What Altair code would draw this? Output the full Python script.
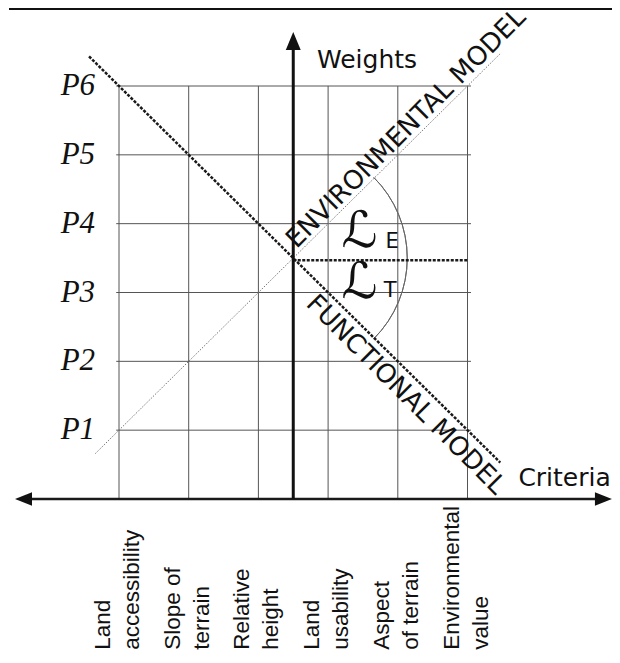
import altair as alt
import pandas as pd

# ---------------- data ----------------
criteria_line1 = ["Land", "Slope of", "Relative", "Land", "Aspect", "Environmental"]
criteria_line2 = ["accessibility", "terrain", "height", "usability", "of terrain", "value"]
criteria_pos = [1, 2, 3, 4, 5, 6]

weight_labels = ["P1", "P2", "P3", "P4", "P5", "P6"]
weight_pos = [1, 2, 3, 4, 5, 6]

# model lines (criterion position, weight level)
functional_x = [0.57, 6.47]
functional_y = [6.43, 0.53]
environmental_x = [0.66, 6.48]
environmental_y = [0.66, 6.48]

angle_symbols = ["\u2112", "\u2112"]
angle_subs = ["E", "T"]

# ---------------- scales ----------------
XS = alt.Scale(domain=[1, 6], range=[111, 459.5], zero=False, nice=False)
YS = alt.Scale(domain=[0, 6], range=[491, 78], zero=False, nice=False)


def X(f):
    return alt.X(f, type="quantitative", scale=XS, axis=None)


def Y(f):
    return alt.Y(f, type="quantitative", scale=YS, axis=None)


def X2(f):
    return alt.X2(f)


def Y2(f):
    return alt.Y2(f)


FONT = "DejaVu Sans"
INK = "#111111"

# grid
vgrid = pd.DataFrame({"c": criteria_pos, "y0": [0] * 6, "y1": [6] * 6})
hgrid = pd.DataFrame({"w": weight_pos, "x0": [0.96] * 6, "x1": [6.05] * 6})

vlines = alt.Chart(vgrid).mark_rule(color="#555555", strokeWidth=1).encode(
    x=X("c"), y=Y("y0"), y2=Y2("y1"))
hlines = alt.Chart(hgrid).mark_rule(color="#555555", strokeWidth=1).encode(
    y=Y("w"), x=X("x0"), x2=X2("x1"))

# axes
xaxis_df = pd.DataFrame({"a": [-0.35], "b": [7.9], "y": [0]})
xaxis = alt.Chart(xaxis_df).mark_rule(color="#1a1a1a", strokeWidth=2.5).encode(
    x=X("a"), x2=X2("b"), y=Y("y"))
yaxis_df = pd.DataFrame({"x": [3.5], "a": [0], "b": [6.6]})
yaxis = alt.Chart(yaxis_df).mark_rule(color=INK, strokeWidth=3).encode(
    x=X("x"), y=Y("a"), y2=Y2("b"))

left_head = alt.Chart(pd.DataFrame({"x": [-0.37], "y": [0]})).mark_point(
    shape="M-1,0L1,-0.8L1,0.8Z", size=289, filled=True, color=INK, opacity=1
).encode(x=X("x"), y=Y("y"))
right_head = alt.Chart(pd.DataFrame({"x": [7.95], "y": [0]})).mark_point(
    shape="M1,0L-1,-0.8L-1,0.8Z", size=289, filled=True, color=INK, opacity=1
).encode(x=X("x"), y=Y("y"))
up_head = alt.Chart(pd.DataFrame({"x": [3.5], "y": [6.654]})).mark_point(
    shape="M0,-1L-0.83,1L0.83,1Z", size=324, filled=True, color=INK, opacity=1
).encode(x=X("x"), y=Y("y"))

# model lines
func_df = pd.DataFrame({"x": [functional_x[0]], "y": [functional_y[0]],
                        "x2": [functional_x[1]], "y2": [functional_y[1]]})
func_line = alt.Chart(func_df).mark_rule(
    color="#1a1a1a", strokeWidth=2.5, strokeDash=[3, 1.5]
).encode(x=X("x"), y=Y("y"), x2=X2("x2"), y2=Y2("y2"))

env_df = pd.DataFrame({"x": [environmental_x[0]], "y": [environmental_y[0]],
                       "x2": [environmental_x[1]], "y2": [environmental_y[1]]})
env_line = alt.Chart(env_df).mark_rule(
    color="#777777", strokeWidth=1, strokeDash=[1.5, 1.5]
).encode(x=X("x"), y=Y("y"), x2=X2("x2"), y2=Y2("y2"))

mid_df = pd.DataFrame({"x": [3.5], "x2": [6.0], "y": [3.47]})
mid_line = alt.Chart(mid_df).mark_rule(
    color="#1a1a1a", strokeWidth=2.5, strokeDash=[3, 1.5]
).encode(x=X("x"), x2=X2("x2"), y=Y("y"))

arc = alt.Chart(pd.DataFrame({"x": [3.5], "y": [3.5]})).mark_arc(
    radius=114, radius2=114, theta=0.785, theta2=2.356,
    filled=False, color="#666666", strokeWidth=1
).encode(x=X("x"), y=Y("y"))

# weight labels
wdf = pd.DataFrame({"w": weight_pos, "label": weight_labels, "x": [0.41] * 6})
wtext = alt.Chart(wdf).mark_text(
    font="Liberation Serif", fontStyle="italic", fontSize=31, color=INK,
    align="center", baseline="middle"
).encode(x=X("x"), y=Y("w"), text="label:N")

# criteria labels
cdf = pd.DataFrame({
    "c": criteria_pos,
    "label": [a + "\n" + b for a, b in zip(criteria_line1, criteria_line2)],
    "y": [-2.19] * 6,
})
ctext = alt.Chart(cdf).mark_text(
    font="Liberation Sans", fontSize=22.5, color=INK, angle=270,
    align="left", baseline="alphabetic", lineBreak="\n", lineHeight=29, dy=-9
).encode(x=X("c"), y=Y("y"), text="label:N")

# axis titles
weights_t = alt.Chart(pd.DataFrame({"x": [3.84], "y": [6.378], "t": ["Weights"]})).mark_text(
    font=FONT, fontSize=25, color=INK, align="left", baseline="middle"
).encode(x=X("x"), y=Y("y"), text="t:N")
criteria_t = alt.Chart(pd.DataFrame({"x": [6.73], "y": [0.3], "t": ["Criteria"]})).mark_text(
    font=FONT, fontSize=25, color=INK, align="left", baseline="middle"
).encode(x=X("x"), y=Y("y"), text="t:N")

# model labels
env_t = alt.Chart(pd.DataFrame({"x": [5.25], "y": [5.25], "t": ["ENVIRONMENTAL  MODEL"]})).mark_text(
    font=FONT, fontSize=26, color=INK, angle=315, align="center",
    baseline="alphabetic", dy=-5
).encode(x=X("x"), y=Y("y"), text="t:N")
func_t = alt.Chart(pd.DataFrame({"x": [5.3], "y": [1.7], "t": ["FUNCTIONAL  MODEL"]})).mark_text(
    font=FONT, fontSize=26, color=INK, angle=45, align="center",
    baseline="top", dy=5
).encode(x=X("x"), y=Y("y"), text="t:N")

# angle labels
adf = pd.DataFrame({"x": [4.45, 4.45], "y": [3.886, 3.131], "t": angle_symbols})
asym = alt.Chart(adf).mark_text(
    font=FONT, fontSize=50, color=INK, align="center", baseline="middle"
).encode(x=X("x"), y=Y("y"), text="t:N")
sdf = pd.DataFrame({"x": [4.92, 4.89], "y": [3.734, 3.022], "t": angle_subs})
asub = alt.Chart(sdf).mark_text(
    font=FONT, fontSize=21, color=INK, align="center", baseline="middle"
).encode(x=X("x"), y=Y("y"), text="t:N")

# top frame line
top_line = alt.Chart(pd.DataFrame({"a": [0]})).mark_rule(color="#111111", strokeWidth=2).encode(
    x=alt.value(1), x2=alt.value(604), y=alt.value(1))

chart = alt.layer(
    top_line, vlines, hlines, env_line, arc, mid_line, func_line,
    xaxis, yaxis, left_head, right_head, up_head,
    wtext, ctext, weights_t, criteria_t, env_t, func_t, asym, asub
).properties(
    width=604, height=644,
    autosize=alt.AutoSizeParams(type="none"),
    padding=0,
    background="white",
).configure_view(stroke=None)

chart.save("out.html", embed_options={"renderer": "svg", "actions": False})
